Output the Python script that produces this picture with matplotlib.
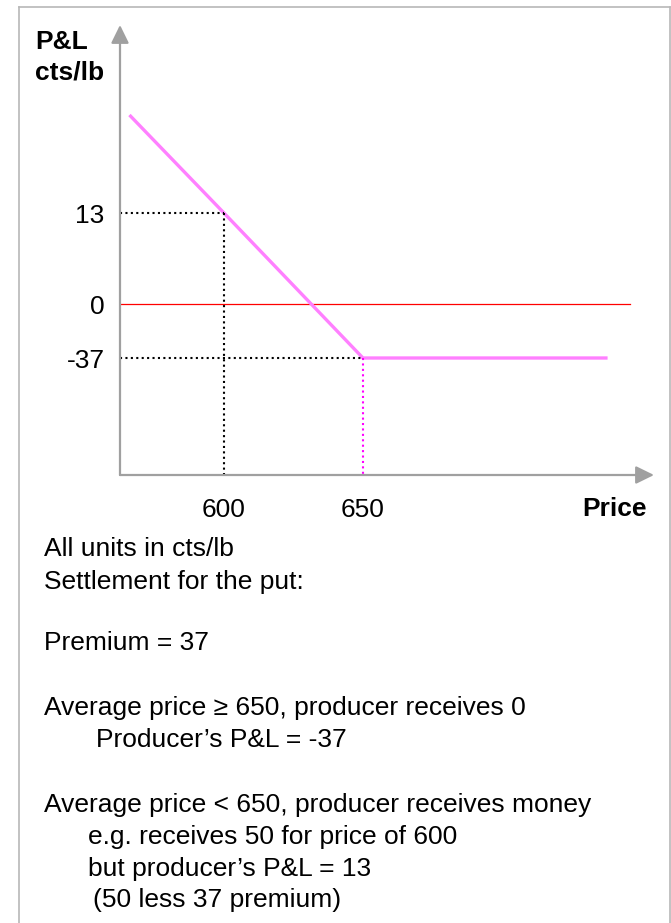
import numpy as np
import matplotlib
matplotlib.use("Agg")
import matplotlib.pyplot as plt
from matplotlib.lines import Line2D

plt.rcParams['font.family'] = ['Liberation Sans', 'DejaVu Sans']

# put payoff for the producer (cts/lb)
price = [566, 600, 650, 738]
pnl = [27, 13, -37, -37]
strike = 650
example_price = 600
example_pnl = 13
premium_pnl = -37
zero_line_end = 746

ytick_vals = [-37, 0, 13]
ytick_labels = ["-37", "0", "13"]
xtick_vals = [600, 650]
xtick_labels = ["600", "650"]

notes = [
    ("All units in cts/lb", 44, 556),
    ("Settlement for the put:", 44, 589),
    ("Premium = 37", 44, 650),
    ("Average price \u2265 650, producer receives 0", 44, 715),
    ("Producer\u2019s P&L = -37", 96, 747),
    ("Average price < 650, producer receives money", 44, 812),
    ("e.g. receives 50 for price of 600", 88, 844),
    ("but producer\u2019s P&L = 13", 88, 876),
    ("(50 less 37 premium)", 93, 907),
]

W, H = 671, 923
fig = plt.figure(figsize=(W / 100, H / 100), dpi=100)

def fx(px):
    return px / W

def fy(py):
    return 1 - py / H

# frame around the slide
frame = dict(color="#b8b8b8", lw=1.2, transform=fig.transFigure)
fig.add_artist(Line2D([fx(19), fx(670)], [fy(7), fy(7)], **frame))
fig.add_artist(Line2D([fx(19), fx(19)], [fy(7), 0], **frame))
fig.add_artist(Line2D([fx(670), fx(670)], [fy(7), 0], **frame))

# axes area: y axis at x=120px, x axis at y=475px
ax = fig.add_axes([fx(120), fy(475), fx(654) - fx(120), (475 - 25) / H])
ax.set_facecolor("none")

# the y axis is schematic, not to scale: piecewise linear between the marked levels
knots = np.array([-200, -37, 0, 13, 100])
knot_pos = np.array([-120.9, 117, 171, 262, 871])

def fwd(v):
    return np.interp(v, knots, knot_pos)

def inv(p):
    return np.interp(p, knot_pos, knots)

ax.set_yscale("function", functions=(fwd, inv))
ax.set_xlim(562.6, 754.7)
ax.set_ylim(inv(0), inv(450))
xmin = ax.get_xlim()[0]
ybot = ax.get_ylim()[0]

for s in ax.spines.values():
    s.set_visible(False)

ax.set_yticks(ytick_vals)
ax.set_yticklabels(ytick_labels)
ax.set_xticks(xtick_vals)
ax.set_xticklabels(xtick_labels)
ax.tick_params(length=0, labelsize=19)
ax.tick_params(axis="y", pad=11)
ax.tick_params(axis="x", pad=16.5)
ax.minorticks_off()

# zero line
ax.plot([xmin, zero_line_end], [0, 0], color="#ff0000", lw=0.9, zorder=2, clip_on=False)

# payoff
ax.plot(price, pnl, color="#ff80ff", lw=2.4, zorder=3, solid_capstyle="butt", clip_on=False)

# dotted guides
dots = (0, (1, 1.6))
ax.plot([xmin, example_price], [example_pnl, example_pnl], color="black", lw=1.5, ls=dots, zorder=4, clip_on=False)
ax.plot([example_price, example_price], [example_pnl, ybot], color="black", lw=1.5, ls=dots, zorder=4, clip_on=False)
ax.plot([xmin, strike], [premium_pnl, premium_pnl], color="black", lw=1.5, ls=dots, zorder=4, clip_on=False)
ax.plot([strike, strike], [premium_pnl, ybot], color="#ff00ff", lw=1.5, ls=dots, zorder=4, clip_on=False)

# axis arrows
arrow = dict(arrowstyle="-|>,head_length=11,head_width=5.4", mutation_scale=1,
             color="#a0a0a0", lw=1.6, shrinkA=0, shrinkB=0)
ax.annotate("", xy=(0, 1), xytext=(0, 0), xycoords="axes fraction", arrowprops=arrow, zorder=5)
ax.annotate("", xy=(1, 0), xytext=(0, 0), xycoords="axes fraction", arrowprops=arrow, zorder=5)

# axis titles
fig.text(fx(35), fy(49), "P&L", fontsize=19, fontweight="bold", va="baseline")
fig.text(fx(35), fy(80), "cts/lb", fontsize=19, fontweight="bold", va="baseline")
fig.text(fx(647), fy(516), "Price", fontsize=19, fontweight="bold", va="baseline", ha="right")

for txt, x, y in notes:
    fig.text(fx(x), fy(y), txt, fontsize=19, va="baseline")

fig.savefig("out.png", dpi=100)
